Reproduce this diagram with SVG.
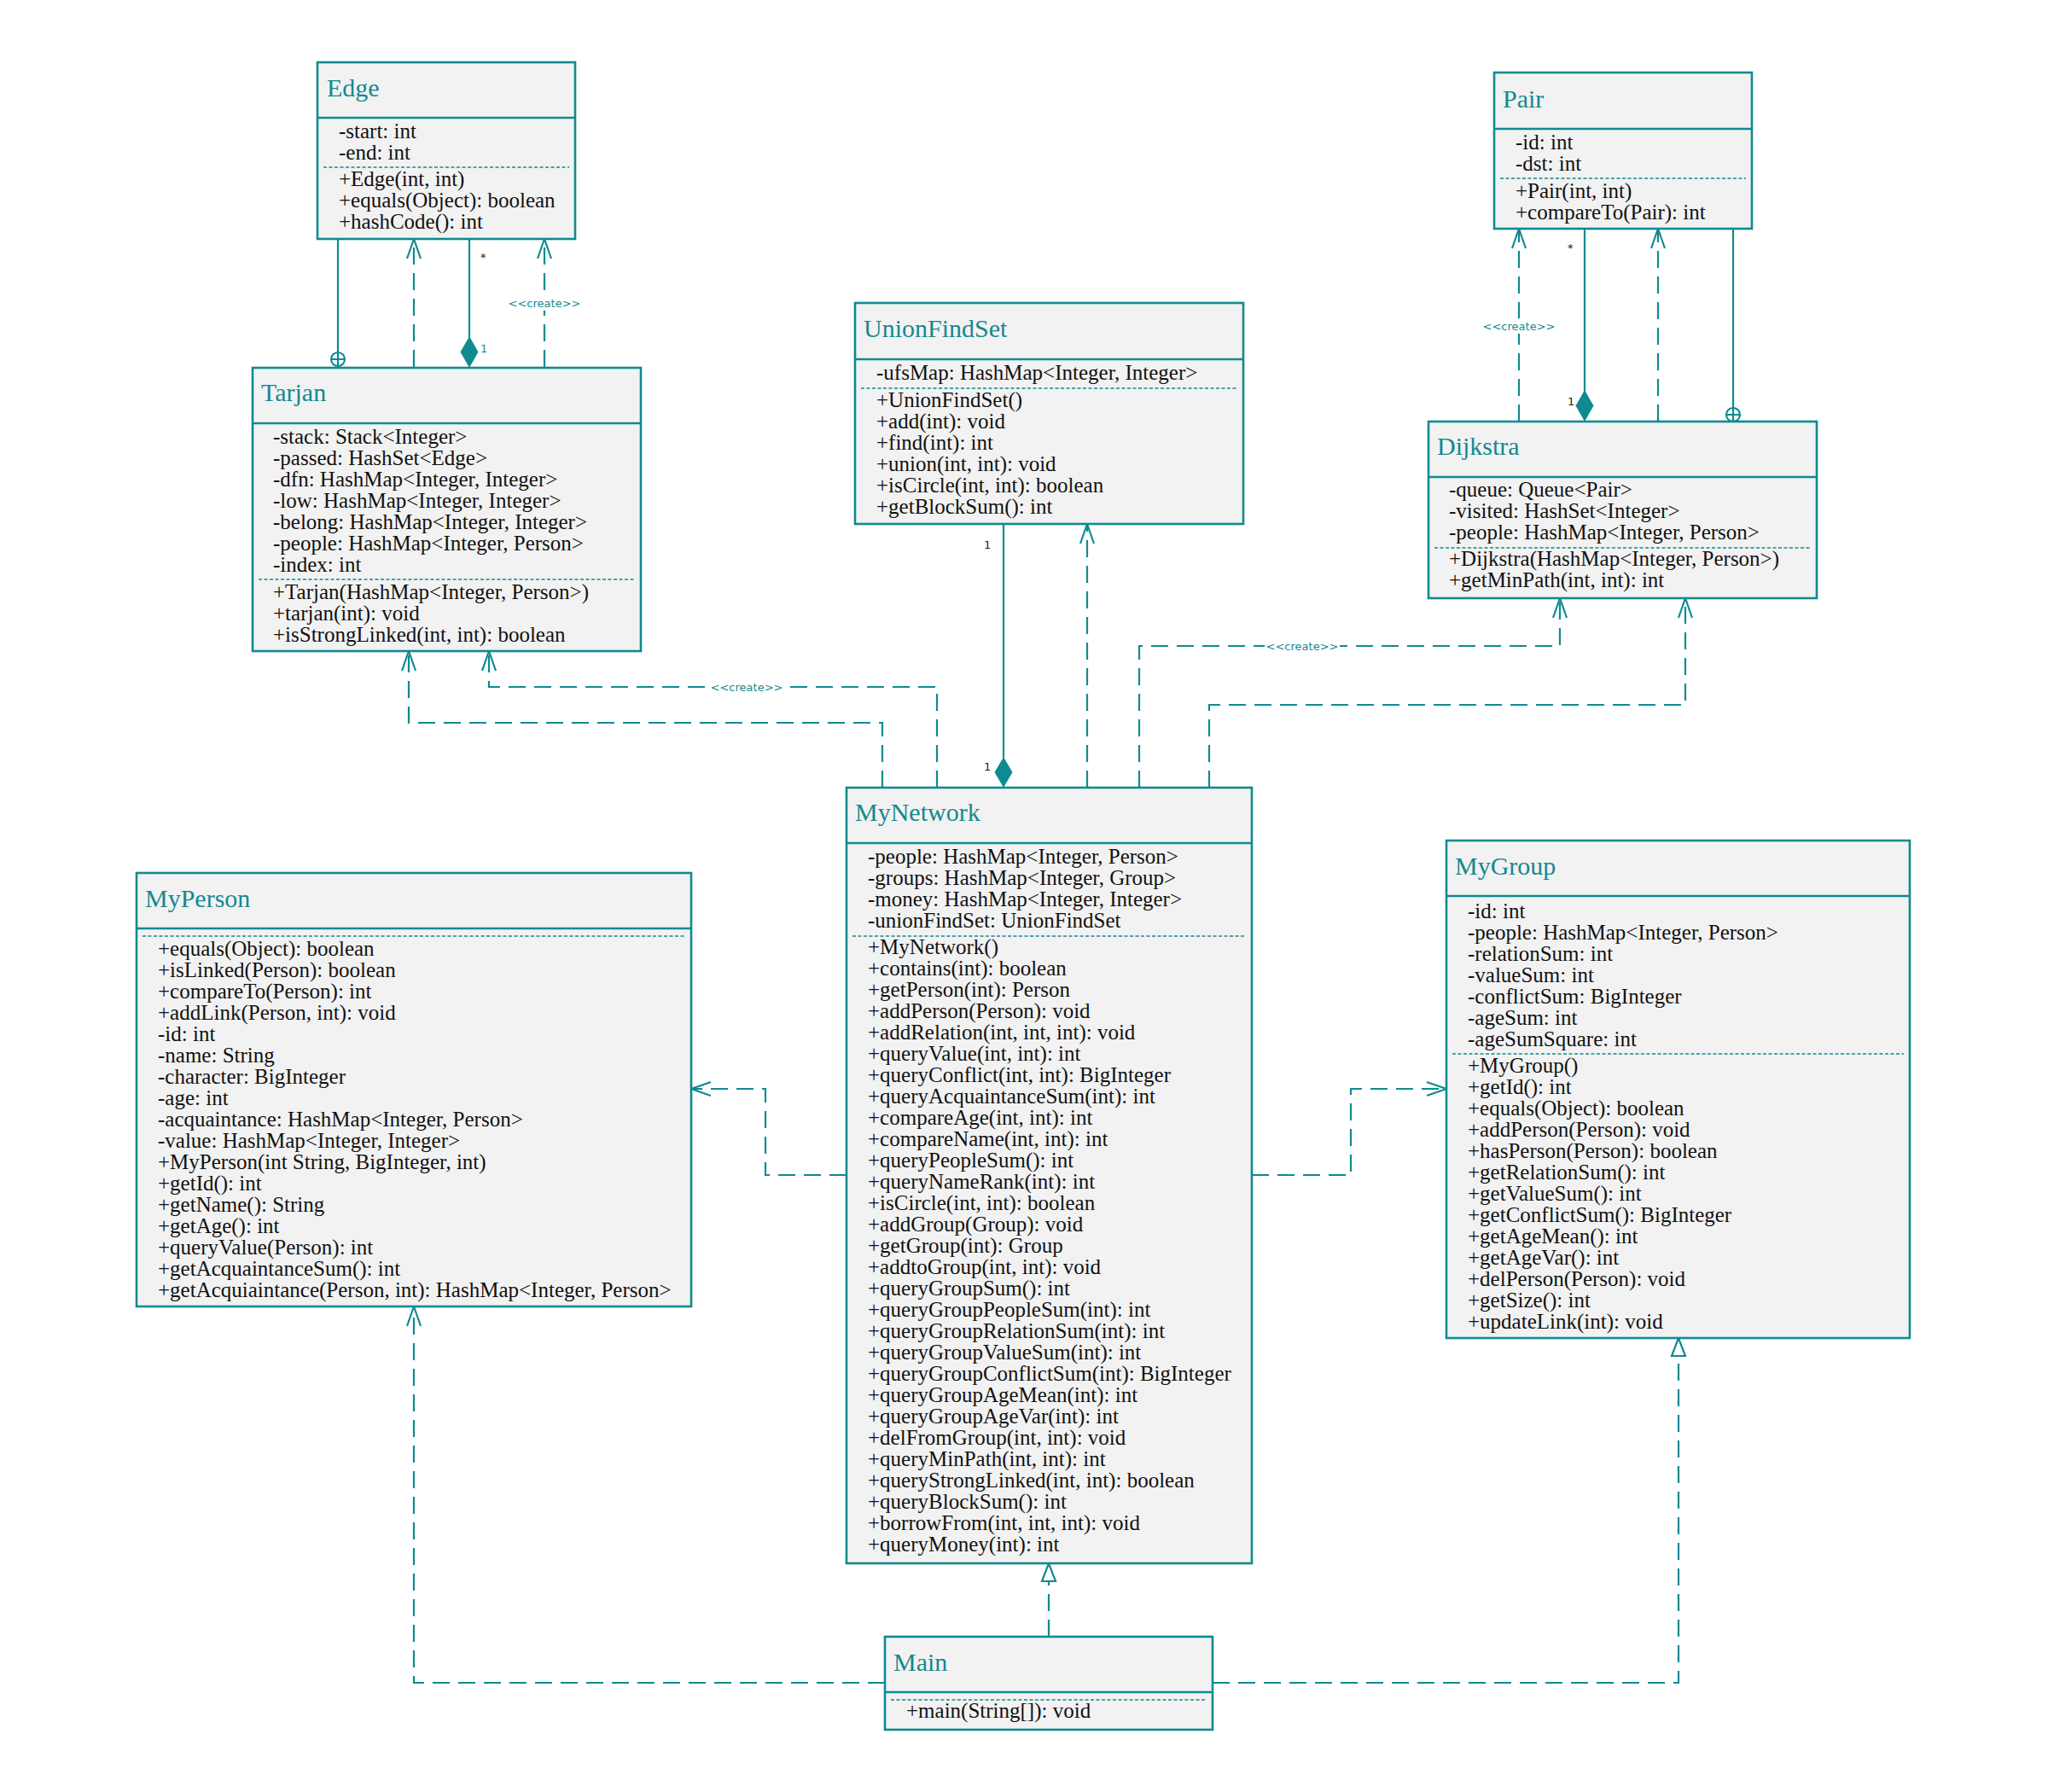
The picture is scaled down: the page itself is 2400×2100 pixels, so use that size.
<svg xmlns="http://www.w3.org/2000/svg" width="2400" height="2100" viewBox="0 0 2400 2100">
<defs>
<style>
.box{fill:#f2f2f2;stroke:#0e8b90;stroke-width:2.6}
.hl{stroke:#0e8b90;stroke-width:2.6}
.sep{stroke:#0e8b90;stroke-width:1.6;stroke-dasharray:4 2.5}
.title{font-family:"Liberation Serif","Times New Roman",serif;font-size:30px;fill:#14898f}
.t{font-family:"Liberation Serif","Times New Roman",serif;font-size:25px;fill:#111}
.c{fill:none;stroke:#0e8b90;stroke-width:2.2}
.d{stroke-dasharray:20 10}
.lbl{font-family:"DejaVu Sans",sans-serif;font-size:13px;fill:#14898f;text-anchor:middle}
.m{font-family:"DejaVu Sans",sans-serif;font-size:13px;fill:#222}
.fill{fill:#0e8b90;stroke:#0e8b90;stroke-width:1}
</style>
<marker id="open" markerUnits="userSpaceOnUse" markerWidth="30" markerHeight="20" viewBox="-26 -10 30 20" refX="0" refY="0" orient="auto" overflow="visible">
<path d="M-23,-8 L0,0 L-23,8" fill="none" stroke="#0e8b90" stroke-width="2.2" stroke-dasharray="none"/>
</marker>
<marker id="tri" markerUnits="userSpaceOnUse" markerWidth="30" markerHeight="20" viewBox="-26 -10 30 20" refX="0" refY="0" orient="auto" overflow="visible">
<path d="M-21,-8 L0,0 L-21,8 Z" fill="#ffffff" stroke="#0e8b90" stroke-width="2.2" stroke-dasharray="none"/>
</marker>
</defs>
<rect width="2400" height="2100" fill="#ffffff"/>

<g id="connectors">
  <!-- Tarjan - Edge nested -->
  <path class="c" d="M396,280 V413"/>
  <circle cx="396" cy="421" r="8" fill="#ffffff" stroke="#0e8b90" stroke-width="2.2"/>
  <path class="c" d="M388,421 H404 M396,413 V429"/>
  <!-- Tarjan - Edge dependency -->
  <path class="c d" d="M485,430 V280" marker-end="url(#open)"/>
  <!-- Tarjan - Edge composition -->
  <path class="c" d="M550,280 V395"/>
  <polygon class="fill" points="550,395 560,412.5 550,430 540,412.5"/>
  <text class="m" x="563" y="306">*</text>
  <text class="m" x="563" y="413" fill="#14898f" style="fill:#14898f">1</text>
  <!-- Tarjan - Edge create -->
  <path class="c d" d="M638,430 V280" marker-end="url(#open)"/>
  <rect x="594" y="346" width="88" height="18" fill="#ffffff"/>
  <text class="lbl" x="638" y="360">&lt;&lt;create&gt;&gt;</text>

  <!-- Dijkstra - Pair create -->
  <path class="c d" d="M1780,494 V268" marker-end="url(#open)"/>
  <rect x="1736" y="373" width="88" height="18" fill="#ffffff"/>
  <text class="lbl" x="1780" y="387">&lt;&lt;create&gt;&gt;</text>
  <!-- Dijkstra - Pair composition -->
  <path class="c" d="M1857,268 V458"/>
  <polygon class="fill" points="1857,458 1867,475.5 1857,493 1847,475.5"/>
  <text class="m" x="1837" y="295">*</text>
  <text class="m" x="1837" y="475">1</text>
  <!-- Dijkstra - Pair dependency -->
  <path class="c d" d="M1943,494 V268" marker-end="url(#open)"/>
  <!-- Dijkstra - Pair nested -->
  <path class="c" d="M2031,268 V478"/>
  <circle cx="2031" cy="486" r="8" fill="#ffffff" stroke="#0e8b90" stroke-width="2.2"/>
  <path class="c" d="M2023,486 H2039 M2031,478 V494"/>

  <!-- MyNetwork - UnionFindSet composition -->
  <path class="c" d="M1176,614 V888"/>
  <polygon class="fill" points="1176,888 1186,905 1176,922 1166,905"/>
  <text class="m" x="1153" y="643">1</text>
  <text class="m" x="1153" y="903">1</text>
  <!-- MyNetwork - UnionFindSet dependency -->
  <path class="c d" d="M1274,923 V614" marker-end="url(#open)"/>

  <!-- MyNetwork - Tarjan -->
  <path class="c d" d="M1034,923 V847 H479 V763" marker-end="url(#open)"/>
  <path class="c d" d="M1098,923 V805 H573 V763" marker-end="url(#open)"/>
  <rect x="831" y="796" width="88" height="18" fill="#ffffff"/>
  <text class="lbl" x="875" y="810">&lt;&lt;create&gt;&gt;</text>

  <!-- MyNetwork - Dijkstra -->
  <path class="c d" d="M1335,923 V757 H1828 V701" marker-end="url(#open)"/>
  <rect x="1482" y="748" width="88" height="18" fill="#ffffff"/>
  <text class="lbl" x="1526" y="762">&lt;&lt;create&gt;&gt;</text>
  <path class="c d" d="M1417,923 V826 H1975 V701" marker-end="url(#open)"/>

  <!-- MyNetwork - MyPerson / MyGroup -->
  <path class="c d" d="M992,1377 H897 V1276 H810" marker-end="url(#open)"/>
  <path class="c d" d="M1467,1377 H1583 V1276 H1695" marker-end="url(#open)"/>

  <!-- Main -->
  <path class="c d" d="M1229,1918 V1832" marker-end="url(#tri)"/>
  <path class="c d" d="M1037,1972 H485 V1531" marker-end="url(#open)"/>
  <path class="c d" d="M1421,1972 H1967 V1568" marker-end="url(#tri)"/>
</g>

<g id="Edge">
  <rect class="box" x="372" y="73" width="302" height="207"/>
  <line class="hl" x1="372" y1="138" x2="674" y2="138"/>
  <text class="title" x="383" y="113">Edge</text>
  <text class="t" x="397" y="162">-start: int</text>
  <text class="t" x="397" y="187">-end: int</text>
  <line class="sep" x1="379" y1="196" x2="667" y2="196"/>
  <text class="t" x="397" y="218">+Edge(int, int)</text>
  <text class="t" x="397" y="243">+equals(Object): boolean</text>
  <text class="t" x="397" y="268">+hashCode(): int</text>
</g>

<g id="Tarjan">
  <rect class="box" x="296" y="431" width="455" height="332"/>
  <line class="hl" x1="296" y1="496" x2="751" y2="496"/>
  <text class="title" x="306" y="470">Tarjan</text>
  <text class="t" x="320" y="520">-stack: Stack&lt;Integer&gt;</text>
  <text class="t" x="320" y="545">-passed: HashSet&lt;Edge&gt;</text>
  <text class="t" x="320" y="570">-dfn: HashMap&lt;Integer, Integer&gt;</text>
  <text class="t" x="320" y="595">-low: HashMap&lt;Integer, Integer&gt;</text>
  <text class="t" x="320" y="620">-belong: HashMap&lt;Integer, Integer&gt;</text>
  <text class="t" x="320" y="645">-people: HashMap&lt;Integer, Person&gt;</text>
  <text class="t" x="320" y="670">-index: int</text>
  <line class="sep" x1="303" y1="679" x2="744" y2="679"/>
  <text class="t" x="320" y="702">+Tarjan(HashMap&lt;Integer, Person&gt;)</text>
  <text class="t" x="320" y="727">+tarjan(int): void</text>
  <text class="t" x="320" y="752">+isStrongLinked(int, int): boolean</text>
</g>

<g id="UnionFindSet">
  <rect class="box" x="1002" y="355" width="455" height="259"/>
  <line class="hl" x1="1002" y1="421" x2="1457" y2="421"/>
  <text class="title" x="1012" y="395">UnionFindSet</text>
  <text class="t" x="1027" y="445">-ufsMap: HashMap&lt;Integer, Integer&gt;</text>
  <line class="sep" x1="1009" y1="455" x2="1450" y2="455"/>
  <text class="t" x="1027" y="477">+UnionFindSet()</text>
  <text class="t" x="1027" y="502">+add(int): void</text>
  <text class="t" x="1027" y="527">+find(int): int</text>
  <text class="t" x="1027" y="552">+union(int, int): void</text>
  <text class="t" x="1027" y="577">+isCircle(int, int): boolean</text>
  <text class="t" x="1027" y="602">+getBlockSum(): int</text>
</g>

<g id="Pair">
  <rect class="box" x="1751" y="85" width="302" height="183"/>
  <line class="hl" x1="1751" y1="151" x2="2053" y2="151"/>
  <text class="title" x="1761" y="126">Pair</text>
  <text class="t" x="1776" y="175">-id: int</text>
  <text class="t" x="1776" y="200">-dst: int</text>
  <line class="sep" x1="1758" y1="209" x2="2046" y2="209"/>
  <text class="t" x="1776" y="232">+Pair(int, int)</text>
  <text class="t" x="1776" y="257">+compareTo(Pair): int</text>
</g>

<g id="Dijkstra">
  <rect class="box" x="1674" y="494" width="455" height="207"/>
  <line class="hl" x1="1674" y1="559" x2="2129" y2="559"/>
  <text class="title" x="1684" y="533">Dijkstra</text>
  <text class="t" x="1698" y="582">-queue: Queue&lt;Pair&gt;</text>
  <text class="t" x="1698" y="607">-visited: HashSet&lt;Integer&gt;</text>
  <text class="t" x="1698" y="632">-people: HashMap&lt;Integer, Person&gt;</text>
  <line class="sep" x1="1681" y1="642" x2="2122" y2="642"/>
  <text class="t" x="1698" y="663">+Dijkstra(HashMap&lt;Integer, Person&gt;)</text>
  <text class="t" x="1698" y="688">+getMinPath(int, int): int</text>
</g>

<g id="MyNetwork">
  <rect class="box" x="992" y="923" width="475" height="909"/>
  <line class="hl" x1="992" y1="988" x2="1467" y2="988"/>
  <text class="title" x="1002" y="962">MyNetwork</text>
  <text class="t" x="1017" y="1012">-people: HashMap&lt;Integer, Person&gt;</text>
  <text class="t" x="1017" y="1037">-groups: HashMap&lt;Integer, Group&gt;</text>
  <text class="t" x="1017" y="1062">-money: HashMap&lt;Integer, Integer&gt;</text>
  <text class="t" x="1017" y="1087">-unionFindSet: UnionFindSet</text>
  <line class="sep" x1="999" y1="1097" x2="1460" y2="1097"/>
  <text class="t" x="1017" y="1118">+MyNetwork()</text>
  <text class="t" x="1017" y="1143">+contains(int): boolean</text>
  <text class="t" x="1017" y="1168">+getPerson(int): Person</text>
  <text class="t" x="1017" y="1193">+addPerson(Person): void</text>
  <text class="t" x="1017" y="1218">+addRelation(int, int, int): void</text>
  <text class="t" x="1017" y="1243">+queryValue(int, int): int</text>
  <text class="t" x="1017" y="1268">+queryConflict(int, int): BigInteger</text>
  <text class="t" x="1017" y="1293">+queryAcquaintanceSum(int): int</text>
  <text class="t" x="1017" y="1318">+compareAge(int, int): int</text>
  <text class="t" x="1017" y="1343">+compareName(int, int): int</text>
  <text class="t" x="1017" y="1368">+queryPeopleSum(): int</text>
  <text class="t" x="1017" y="1393">+queryNameRank(int): int</text>
  <text class="t" x="1017" y="1418">+isCircle(int, int): boolean</text>
  <text class="t" x="1017" y="1443">+addGroup(Group): void</text>
  <text class="t" x="1017" y="1468">+getGroup(int): Group</text>
  <text class="t" x="1017" y="1493">+addtoGroup(int, int): void</text>
  <text class="t" x="1017" y="1518">+queryGroupSum(): int</text>
  <text class="t" x="1017" y="1543">+queryGroupPeopleSum(int): int</text>
  <text class="t" x="1017" y="1568">+queryGroupRelationSum(int): int</text>
  <text class="t" x="1017" y="1593">+queryGroupValueSum(int): int</text>
  <text class="t" x="1017" y="1618">+queryGroupConflictSum(int): BigInteger</text>
  <text class="t" x="1017" y="1643">+queryGroupAgeMean(int): int</text>
  <text class="t" x="1017" y="1668">+queryGroupAgeVar(int): int</text>
  <text class="t" x="1017" y="1693">+delFromGroup(int, int): void</text>
  <text class="t" x="1017" y="1718">+queryMinPath(int, int): int</text>
  <text class="t" x="1017" y="1743">+queryStrongLinked(int, int): boolean</text>
  <text class="t" x="1017" y="1768">+queryBlockSum(): int</text>
  <text class="t" x="1017" y="1793">+borrowFrom(int, int, int): void</text>
  <text class="t" x="1017" y="1818">+queryMoney(int): int</text>
</g>

<g id="MyPerson">
  <rect class="box" x="160" y="1023" width="650" height="508"/>
  <line class="hl" x1="160" y1="1088" x2="810" y2="1088"/>
  <text class="title" x="170" y="1063">MyPerson</text>
  <line class="sep" x1="167" y1="1097" x2="803" y2="1097"/>
  <text class="t" x="185" y="1120">+equals(Object): boolean</text>
  <text class="t" x="185" y="1145">+isLinked(Person): boolean</text>
  <text class="t" x="185" y="1170">+compareTo(Person): int</text>
  <text class="t" x="185" y="1195">+addLink(Person, int): void</text>
  <text class="t" x="185" y="1220">-id: int</text>
  <text class="t" x="185" y="1245">-name: String</text>
  <text class="t" x="185" y="1270">-character: BigInteger</text>
  <text class="t" x="185" y="1295">-age: int</text>
  <text class="t" x="185" y="1320">-acquaintance: HashMap&lt;Integer, Person&gt;</text>
  <text class="t" x="185" y="1345">-value: HashMap&lt;Integer, Integer&gt;</text>
  <text class="t" x="185" y="1370">+MyPerson(int String, BigInteger, int)</text>
  <text class="t" x="185" y="1395">+getId(): int</text>
  <text class="t" x="185" y="1420">+getName(): String</text>
  <text class="t" x="185" y="1445">+getAge(): int</text>
  <text class="t" x="185" y="1470">+queryValue(Person): int</text>
  <text class="t" x="185" y="1495">+getAcquaintanceSum(): int</text>
  <text class="t" x="185" y="1520">+getAcquiaintance(Person, int): HashMap&lt;Integer, Person&gt;</text>
</g>

<g id="MyGroup">
  <rect class="box" x="1695" y="985" width="543" height="583"/>
  <line class="hl" x1="1695" y1="1050" x2="2238" y2="1050"/>
  <text class="title" x="1705" y="1025">MyGroup</text>
  <text class="t" x="1720" y="1076">-id: int</text>
  <text class="t" x="1720" y="1101">-people: HashMap&lt;Integer, Person&gt;</text>
  <text class="t" x="1720" y="1126">-relationSum: int</text>
  <text class="t" x="1720" y="1151">-valueSum: int</text>
  <text class="t" x="1720" y="1176">-conflictSum: BigInteger</text>
  <text class="t" x="1720" y="1201">-ageSum: int</text>
  <text class="t" x="1720" y="1226">-ageSumSquare: int</text>
  <line class="sep" x1="1702" y1="1235" x2="2231" y2="1235"/>
  <text class="t" x="1720" y="1257">+MyGroup()</text>
  <text class="t" x="1720" y="1282">+getId(): int</text>
  <text class="t" x="1720" y="1307">+equals(Object): boolean</text>
  <text class="t" x="1720" y="1332">+addPerson(Person): void</text>
  <text class="t" x="1720" y="1357">+hasPerson(Person): boolean</text>
  <text class="t" x="1720" y="1382">+getRelationSum(): int</text>
  <text class="t" x="1720" y="1407">+getValueSum(): int</text>
  <text class="t" x="1720" y="1432">+getConflictSum(): BigInteger</text>
  <text class="t" x="1720" y="1457">+getAgeMean(): int</text>
  <text class="t" x="1720" y="1482">+getAgeVar(): int</text>
  <text class="t" x="1720" y="1507">+delPerson(Person): void</text>
  <text class="t" x="1720" y="1532">+getSize(): int</text>
  <text class="t" x="1720" y="1557">+updateLink(int): void</text>
</g>

<g id="Main">
  <rect class="box" x="1037" y="1918" width="384" height="109"/>
  <line class="hl" x1="1037" y1="1983" x2="1421" y2="1983"/>
  <text class="title" x="1047" y="1958">Main</text>
  <line class="sep" x1="1044" y1="1992" x2="1414" y2="1992"/>
  <text class="t" x="1062" y="2013">+main(String[]): void</text>
</g>
</svg>
